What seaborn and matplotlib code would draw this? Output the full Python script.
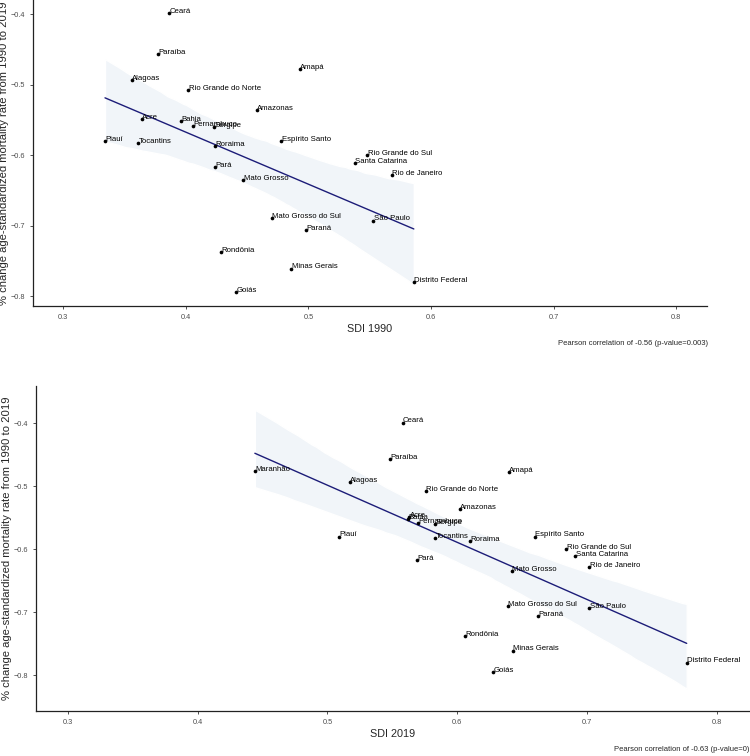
import numpy as np
import pandas as pd
import matplotlib
matplotlib.use("Agg")
import matplotlib.pyplot as plt
import seaborn as sns

# ── data ────────────────────────────────────────────────────────────────────
states = [
    "Ceará", "Paraíba", "Alagoas", "Amapá", "Rio Grande do Norte", "Amazonas",
    "Acre", "Bahia", "Pernambuco", "Sergipe", "Piauí", "Tocantins", "Roraima",
    "Espírito Santo", "Rio Grande do Sul", "Santa Catarina", "Rio de Janeiro",
    "Pará", "Mato Grosso", "Mato Grosso do Sul", "São Paulo", "Paraná",
    "Rondônia", "Minas Gerais", "Goiás", "Distrito Federal", "Maranhão",
]
sdi_1990 = [
    0.386, 0.377, 0.356, 0.493, 0.402, 0.458,
    0.364, 0.396, 0.406, 0.423, 0.334, 0.361, 0.424,
    0.478, 0.548, 0.538, 0.568,
    0.424, 0.447, 0.470, 0.553, 0.498,
    0.429, 0.486, 0.441, 0.586, np.nan,
]
sdi_2019 = [
    0.558, 0.548, 0.517, 0.640, 0.576, 0.602,
    0.563, 0.562, 0.570, 0.583, 0.509, 0.583, 0.610,
    0.660, 0.684, 0.691, 0.702,
    0.569, 0.642, 0.639, 0.702, 0.662,
    0.606, 0.643, 0.628, 0.777, 0.444,
]
change = [
    -0.399, -0.457, -0.494, -0.478, -0.508, -0.536,
    -0.549, -0.552, -0.559, -0.560, -0.580, -0.583, -0.587,
    -0.580, -0.600, -0.611, -0.628,
    -0.617, -0.635, -0.690, -0.693, -0.706,
    -0.738, -0.761, -0.795, -0.780, -0.476,
]
captions = [
    "Pearson correlation of -0.56 (p-value=0.003)",
    "Pearson correlation of -0.63 (p-value=0)",
]

df = pd.DataFrame({"state": states, "sdi_1990": sdi_1990,
                   "sdi_2019": sdi_2019, "change": change})

YLAB = "% change age-standardized mortality rate from 1990 to 2019"
FONT = ["Liberation Sans", "DejaVu Sans"]

sns.set_style("ticks")
plt.rcParams["font.family"] = FONT

fig = plt.figure(figsize=(7.5, 7.56), dpi=100)

# (column, x title, axes rect, ylim, caption x, caption y, x-title y)
panels = [
    ("sdi_1990", "SDI 1990", [0.0436, 0.5952, 0.8987, 0.4048], (-0.8142, -0.380), 0.944, 0.545, 0.565),
    ("sdi_2019", "SDI 2019", [0.0476, 0.0595, 0.9510, 0.4299], (-0.857, -0.341), 0.999, 0.008, 0.029),
]

for (col, xlab, rect, ylim, cx, cy, ly), cap in zip(panels, captions):
    ax = fig.add_axes(rect)
    d = df.dropna(subset=[col])

    sns.regplot(data=d, x=col, y="change", ax=ax, scatter=False, ci=95,
                color="#1c1c78", line_kws={"lw": 1.0, "zorder": 3})
    band = ax.collections[-1]
    band.set_facecolor("#f1f5f9")
    band.set_alpha(1.0)
    band.set_zorder(1)

    sns.scatterplot(data=d, x=col, y="change", ax=ax, color="black",
                    s=7, linewidth=0, zorder=4)

    for _, r in d.iterrows():
        ax.annotate(r["state"], (r[col], r["change"]), xytext=(0.3, 1.2),
                    textcoords="offset points", fontsize=5.6, ha="left",
                    va="center", color="black", zorder=5)

    ax.set_xlim(0.275, 0.825)
    ax.set_ylim(*ylim)
    ax.set_xticks([0.3, 0.4, 0.5, 0.6, 0.7, 0.8])
    ax.set_yticks([-0.8, -0.7, -0.6, -0.5, -0.4])
    ax.tick_params(labelsize=5.3, labelcolor="#4d4d4d", color="#333333",
                   length=2.5, width=0.6, pad=3)
    ax.set_xlabel("")
    ax.set_ylabel(YLAB, fontsize=8.1, labelpad=1)
    sns.despine(ax=ax)
    for s in ("left", "bottom"):
        ax.spines[s].set_linewidth(0.9)
        ax.spines[s].set_color("#222222")

    mid = rect[0] + rect[2] / 2
    fig.text(mid, ly, xlab, fontsize=7.8, ha="center", va="center")
    fig.text(cx, cy, cap, fontsize=5.5, ha="right", va="center")

plt.savefig("out.png", dpi=100)
plt.close()
